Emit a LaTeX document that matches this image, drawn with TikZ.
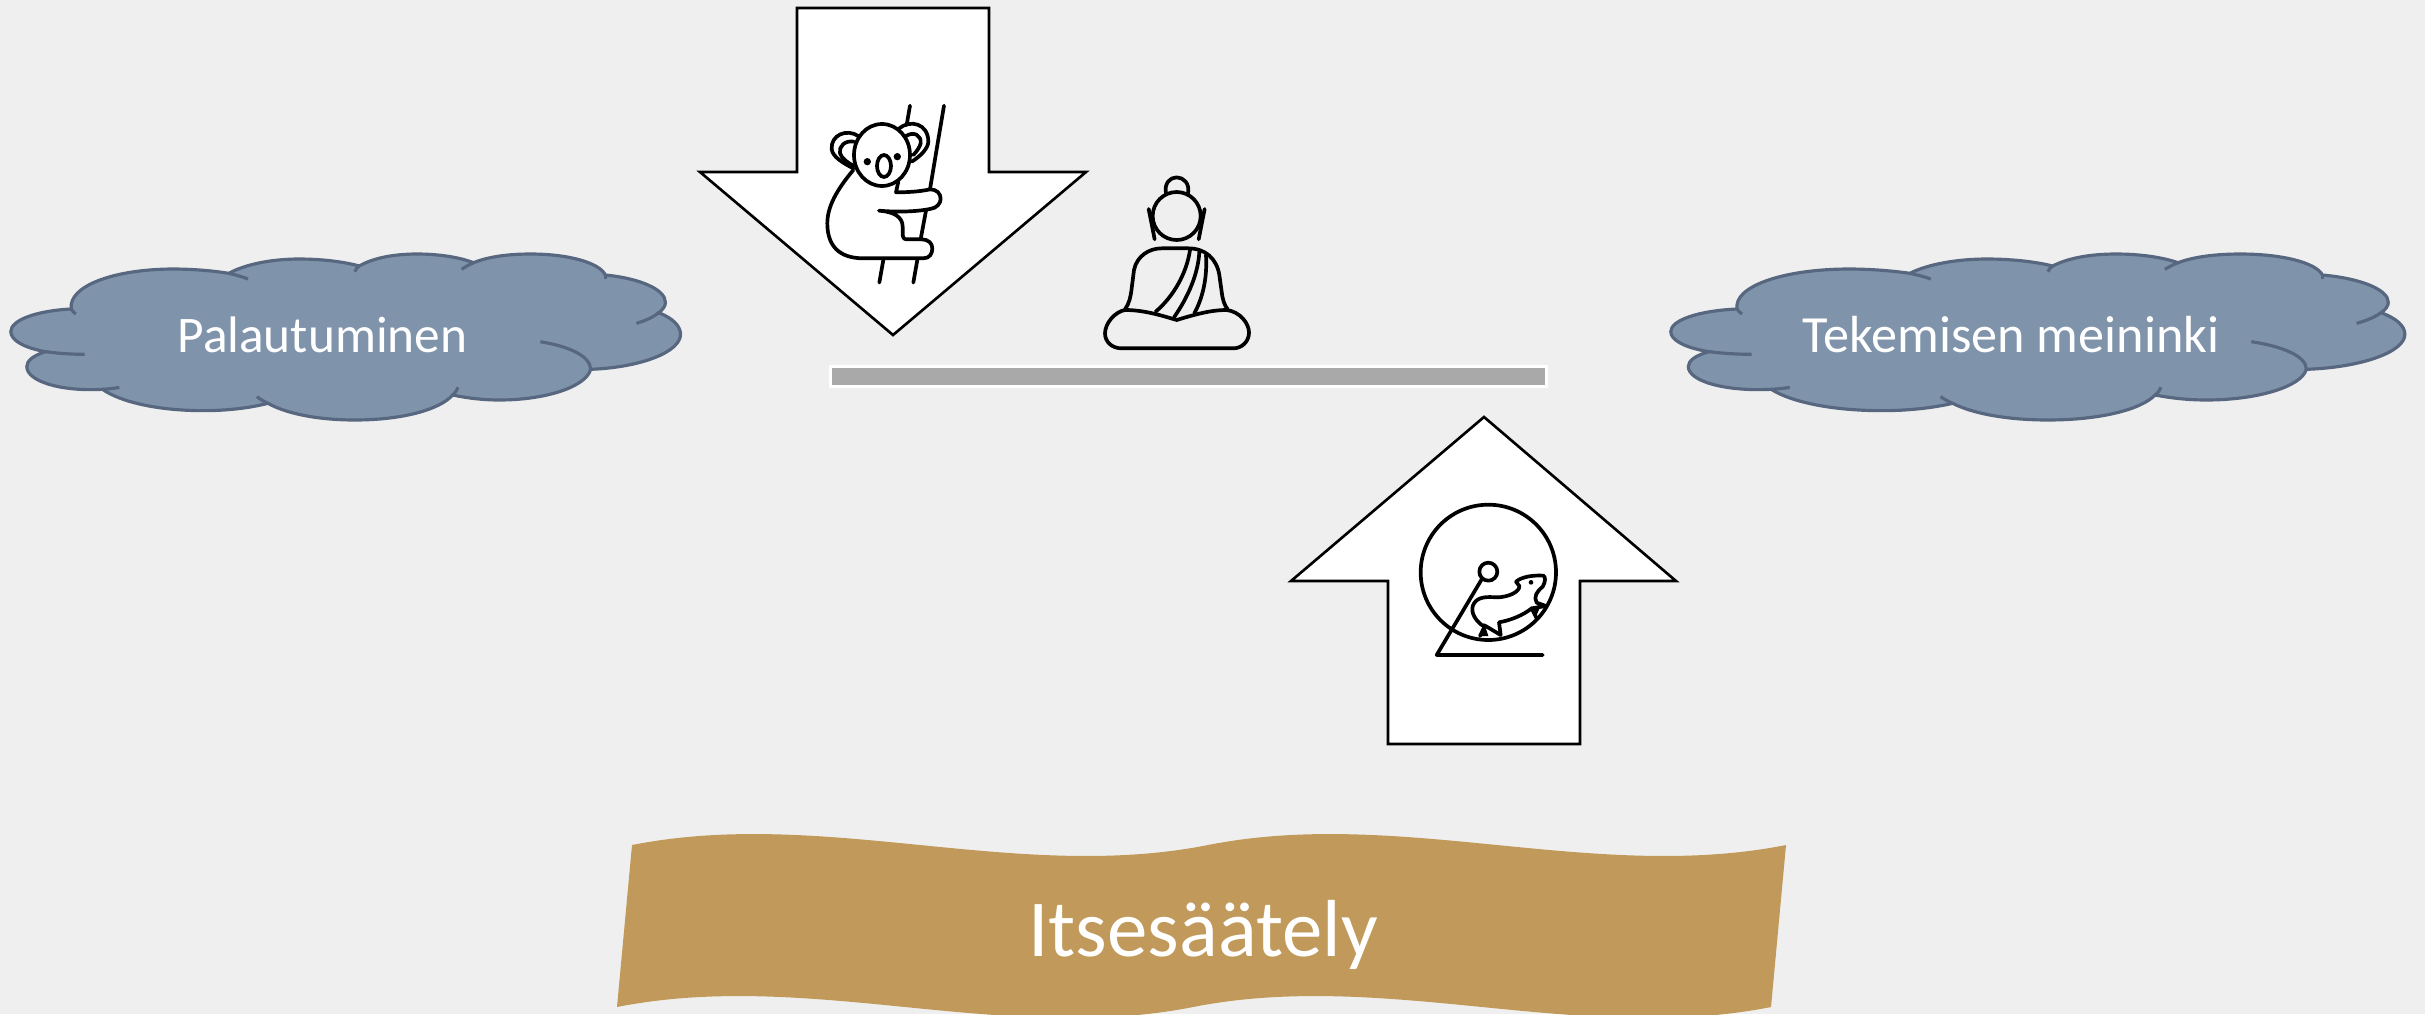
\documentclass[tikz,border=0pt]{standalone}
\usepackage{fontspec}
\setmainfont{Carlito}
\definecolor{bgc}{HTML}{EFEFEF}
\definecolor{cloudf}{HTML}{7F93AB}
\definecolor{cloudl}{HTML}{56677F}
\definecolor{flagc}{HTML}{C19A5B}
\definecolor{barc}{HTML}{A9A9A9}
\tikzset{
  arrowshape/.style={draw=black,fill=white,line width=0.75pt,miter limit=10},
  iconline/.style={draw=black,line width=1.05pt,line cap=round,line join=round},
  cloudfill/.style={fill=cloudf,draw=cloudl,line width=0.9pt},
  cloudhook/.style={draw=cloudl,line width=0.9pt},
  lbl/.style={text=white,inner sep=0pt,anchor=base},
}
\newcommand{\cloudshape}{%
  \path[cloudfill] (158,207) .. controls (150,140) and (250,88) .. (385,87) .. controls (430,87) and (475,92) .. (512,100)
   .. controls (550,72) and (610,57) .. (670,57) .. controls (720,57) and (770,65) .. (805,78)
   .. controls (835,55) and (880,42) .. (935,42) .. controls (985,42) and (1030,52) .. (1062,68)
   .. controls (1095,50) and (1140,42) .. (1190,42) .. controls (1275,42) and (1345,68) .. (1358,105)
   .. controls (1435,115) and (1493,148) .. (1493,187) .. controls (1493,198) and (1488,208) .. (1478,218)
   .. controls (1510,235) and (1527,258) .. (1527,283) .. controls (1527,335) and (1440,382) .. (1325,388)
   .. controls (1315,440) and (1225,480) .. (1120,480) .. controls (1085,480) and (1050,475) .. (1015,465)
   .. controls (985,510) and (900,540) .. (795,540) .. controls (710,540) and (640,520) .. (600,490)
   .. controls (555,505) and (505,512) .. (455,512) .. controls (355,512) and (270,487) .. (228,448)
   .. controls (130,455) and (58,422) .. (58,380) .. controls (58,362) and (72,347) .. (100,335)
   .. controls (50,323) and (22,300) .. (22,275) .. controls (22,240) and (80,212) .. (158,207) -- cycle;
  \path[cloudhook] (158,207) .. controls (160,213) and (164,218) .. (168,222);
  \path[cloudhook] (512,100) .. controls (528,105) and (542,110) .. (555,117);
  \path[cloudhook] (805,78) .. controls (800,83) and (797,89) .. (795,95);
  \path[cloudhook] (1062,68) .. controls (1052,74) and (1043,81) .. (1035,88);
  \path[cloudhook] (1358,105) -- (1358,118);
  \path[cloudhook] (1478,218) .. controls (1465,232) and (1448,242) .. (1428,250);
  \path[cloudhook] (1325,388) .. controls (1325,350) and (1280,320) .. (1212,305);
  \path[cloudhook] (1015,465) .. controls (1021,458) and (1025,450) .. (1027,442);
  \path[cloudhook] (600,490) .. controls (590,484) and (582,477) .. (575,470);
  \path[cloudhook] (228,448) .. controls (242,447) and (254,445) .. (266,442);
  \path[cloudhook] (100,335) .. controls (128,340) and (158,343) .. (188,343);
}
\begin{document}
\begin{tikzpicture}[x=0.01cm,y=-0.01cm]
\useasboundingbox (0,0) rectangle (2425,1014);
\fill[bgc] (0,0) rectangle (2425,1014);
\clip (0,0) rectangle (2425,1014);

% clouds
\begin{scope}[shift={(1,240)},xscale=0.4450,yscale=0.3333]
\cloudshape
\end{scope}
\begin{scope}[shift={(1660,240)},xscale=0.4878,yscale=0.3333]
\cloudshape
\end{scope}
\node[lbl,font=\fontsize{14.6pt}{16pt}\selectfont] (palautuminen) at (322.5,352) {Palautuminen};
\node[lbl,font=\fontsize{14.85pt}{16pt}\selectfont] (tekeminen) at (2011,352) {Tekemisen meininki};

% bar
\path[fill=barc,draw=white,line width=0.85pt] (830.5,366.5) rectangle (1546,386.5);

% arrows
\path[arrowshape] (797,8) -- (989,8) -- (989,172) -- (1086,172) -- (893,335) -- (700,172) -- (797,172) -- cycle;
\path[arrowshape] (1484,417) -- (1676,581) -- (1580,581) -- (1580,744) -- (1388,744) -- (1388,581) -- (1291,581) -- cycle;

% koala
\begin{scope}[shift={(680,0)},scale=0.3333]
\draw[iconline] (606,465) ellipse [x radius=84,y radius=93];
\draw[iconline] (535,408) .. controls (500,385) and (452,405) .. (455,447) .. controls (457,470) and (490,490) .. (520,505);
\draw[iconline] (522,425) .. controls (495,420) and (475,440) .. (480,460) .. controls (485,475) and (505,490) .. (520,497);
\draw[iconline] (658,385) .. controls (690,358) and (745,370) .. (745,425) .. controls (745,445) and (720,470) .. (695,485);
\draw[iconline] (675,410) .. controls (700,392) and (725,405) .. (722,430) .. controls (720,440) and (710,455) .. (700,465);
\fill (562,485) circle [radius=11];
\fill (652,470) circle [radius=11];
\draw[iconline] (612,498) ellipse [x radius=21,y radius=33];
\draw[iconline] (520,510) .. controls (470,570) and (442,620) .. (442,670) .. controls (442,740) and (480,775) .. (550,775) -- (730,775) .. controls (750,775) and (757,760) .. (757,745) .. controls (757,730) and (745,718) .. (725,718) -- (680,718) .. controls (670,718) and (668,710) .. (668,700) -- (668,680) .. controls (668,650) and (640,635) .. (597,632) .. controls (650,637) and (710,635) .. (750,627) .. controls (770,625) and (782,610) .. (782,597) .. controls (782,580) and (770,568) .. (750,568) .. controls (720,575) and (680,577) .. (648,577) -- (655,545);
\draw[iconline] (690,317) -- (680,375);
\draw[iconline] (792,317) -- (750,568);
\draw[iconline] (738,632) -- (722,718);
\draw[iconline] (610,780) -- (598,848);
\draw[iconline] (712,780) -- (700,848);
\end{scope}

% meditating figure
\begin{scope}[shift={(1060,160)},scale=0.3333]
\draw[iconline] (350,168) circle [radius=72];
\draw[iconline] (318,100) .. controls (312,70) and (330,52) .. (350,52) .. controls (370,52) and (390,70) .. (384,100);
\draw[iconline] (266,147) -- (284,238);
\draw[iconline] (434,147) -- (416,238);
\draw[iconline] (195,448) .. controls (208,430) and (212,410) .. (215,385) -- (222,330) .. controls (230,290) and (265,265) .. (305,265) -- (385,265) .. controls (435,265) and (470,295) .. (478,345) -- (485,395) .. controls (488,420) and (493,435) .. (503,448);
\draw[iconline] (350,480) .. controls (300,465) and (250,450) .. (195,450) .. controls (165,455) and (135,490) .. (135,520) .. controls (135,545) and (155,565) .. (185,565) -- (520,565) .. controls (545,565) and (567,545) .. (567,518) .. controls (567,490) and (540,455) .. (500,450) .. controls (450,450) and (400,465) .. (350,480) -- cycle;
\draw[iconline] (390,270) .. controls (380,340) and (340,410) .. (287,455);
\draw[iconline] (418,275) .. controls (415,340) and (385,410) .. (342,472);
\draw[iconline] (438,285) .. controls (442,350) and (430,410) .. (403,460);
\end{scope}

% hamster wheel
\begin{scope}[shift={(1380,480)},scale=0.3333]
\draw[iconline] (325,277) circle [radius=203];
\draw[iconline] (325,275) circle [radius=27];
\draw[iconline] (305,298) -- (170,525) -- (488,525);
\draw[iconline] (408,305) .. controls (425,290) and (460,285) .. (490,287) .. controls (497,290) and (497,305) .. (488,320) .. controls (470,335) and (460,350) .. (470,368) -- (498,378) -- (455,385) .. controls (430,405) and (395,420) .. (357,427) -- (362,465) -- (315,437) -- (300,468);
\draw[iconline] (315,437) -- (305,435) .. controls (280,415) and (270,390) .. (282,370) .. controls (295,350) and (320,350) .. (350,352) .. controls (385,352) and (420,335) .. (418,318) -- (408,305);
\draw[iconline] (455,385) -- (470,415);
\fill (453,307) circle [radius=7];
\fill (315,437) -- (325,468) -- (300,468) -- cycle;
\fill (458,390) -- (480,382) -- (468,410) -- cycle;
\end{scope}

% banner
\path[fill=flagc] (632,845) .. controls (824,807) and (1016,883) .. (1208,845) .. controls (1400,807) and (1594,883) .. (1786,845) -- (1771,1007) .. controls (1578,1045) and (1386,969) .. (1193,1007) .. controls (1001,1045) and (809,969) .. (617,1007) -- cycle;
\node[lbl,font=\fontsize{23pt}{25pt}\selectfont] (itse) at (1203,956) {Itsesäätely};
\end{tikzpicture}
\end{document}
